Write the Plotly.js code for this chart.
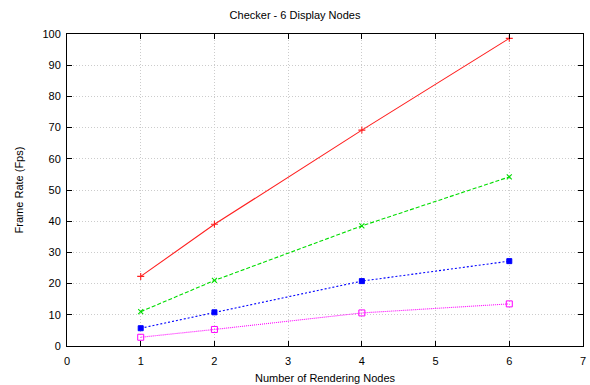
<!DOCTYPE html>
<html><head><meta charset="utf-8">
<script src="https://cdn.plot.ly/plotly-3.0.1.min.js"></script>
<style>body{margin:0;background:#fff}</style>
</head><body><div id="c" style="width:590px;height:385px"></div>
<script>
const nodes = [1, 2, 4, 6];
const seriesRed = [22.3, 39, 69.2, 98.6];
const seriesGreen = [11, 21, 38.5, 54.2];
const seriesBlue = [5.7, 10.8, 20.8, 27.2];
const seriesMagenta = [2.8, 5.3, 10.6, 13.5];
const xTicks = [0,1,2,3,4,5,6,7];
const yTicks = [0,10,20,30,40,50,60,70,80,90,100];

const mk = (y, color, dash, sym, size, lw) => ({
  x: nodes, y: y, type: 'scatter', mode: 'lines+markers',
  line: {color: color, width: 1.1, dash: dash},
  marker: {symbol: sym, size: size, color: color, line: {color: color, width: lw}},
  showlegend: false, hoverinfo: 'skip'
});
const data = [
  mk(seriesRed, '#ff2020', 'solid', 'cross-thin-open', 5, 1.1),
  mk(seriesGreen, '#00dd00', '4px,2px', 'x-thin-open', 5, 1.1),
  mk(seriesBlue, '#0000ff', '2px,2px', 'square', 5, 1),
  mk(seriesMagenta, '#ff00ff', '1px,1px', 'square-open', 6, 1)
];
const ax = {
  showline: true, linecolor: '#000', linewidth: 1, mirror: 'ticks',
  ticks: 'inside', ticklen: 5, tickcolor: '#000',
  showgrid: true, gridcolor: '#cccccc', griddash: '1px,2px', gridwidth: 1,
  zeroline: false, tickfont: {size: 11, color: '#000'}
};
const layout = {
  width: 590, height: 385,
  margin: {l: 67, r: 7, t: 34, b: 39},
  paper_bgcolor: '#fff', plot_bgcolor: '#fff',
  font: {family: 'Liberation Sans, Arial, sans-serif', size: 11, color: '#000'},
  title: {text: 'Checker - 6 Display Nodes', x: 0.5, xanchor: 'center', y: 0.96, yanchor: 'middle', font: {size: 11}},
  xaxis: Object.assign({}, ax, {range: [0, 7], tickvals: xTicks, ticktext: xTicks.map(String),
    ticklabelstandoff: 5,
    title: {text: 'Number of Rendering Nodes', standoff: 8, font: {size: 11}}}),
  yaxis: Object.assign({}, ax, {range: [0, 100], tickvals: yTicks, ticktext: yTicks.map(String),
    ticklabelstandoff: 3,
    title: {text: 'Frame Rate (Fps)', standoff: 16, font: {size: 11}}})
};
Plotly.newPlot('c', data, layout, {displayModeBar: false, staticPlot: true});
</script></body></html>
